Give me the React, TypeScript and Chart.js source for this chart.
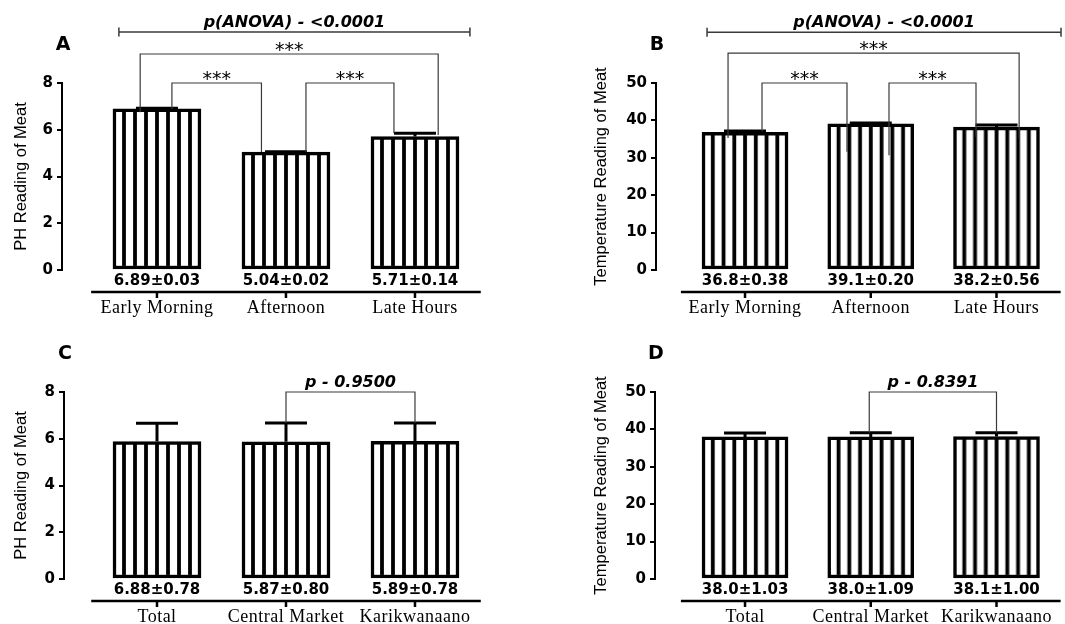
import React, { useEffect, useRef } from "react";
import { Chart, registerables } from "chart.js";

Chart.register(...registerables);

// ---------------- data ----------------
const TIME_CATEGORIES = ["Early Morning", "Afternoon", "Late Hours"];
const MARKET_CATEGORIES = ["Total", "Central Market", "Karikwanaano"];

const PH_TICKS = [0, 2, 4, 6, 8];
const TEMP_TICKS = [0, 10, 20, 30, 40, 50];

const PH_TIME_MEAN = [6.89, 5.04, 5.71];
const PH_TIME_SD = [0.03, 0.02, 0.14];
const PH_TIME_TEXT = ["6.89±0.03", "5.04±0.02", "5.71±0.14"];

const TEMP_TIME_MEAN = [36.8, 39.1, 38.2];
const TEMP_TIME_SD = [0.38, 0.2, 0.56];
const TEMP_TIME_TEXT = ["36.8±0.38", "39.1±0.20", "38.2±0.56"];

const PH_MARKET_MEAN = [5.88, 5.87, 5.89];
const PH_MARKET_SD = [0.78, 0.8, 0.78];
const PH_MARKET_TEXT = ["6.88±0.78", "5.87±0.80", "5.89±0.78"];

const TEMP_MARKET_MEAN = [38.0, 38.0, 38.1];
const TEMP_MARKET_SD = [1.03, 1.09, 1.0];
const TEMP_MARKET_TEXT = ["38.0±1.03", "38.0±1.09", "38.1±1.00"];

// comparison annotations (x in category units, y in axis values)
const PH_TIME_HEADER = { from: -0.295, to: 2.426, at: 10.18, text: "p(ANOVA) - <0.0001" };
const PH_TIME_BRACKETS = [
  { from: -0.13, to: 2.18, top: 9.24, fromEnd: 6.75, toEnd: 5.78, text: "***", stars: true },
  { from: 0.116, to: 0.81, top: 8, fromEnd: 6.89, toEnd: 5.05, text: "***", stars: true },
  { from: 1.155, to: 1.837, top: 8, fromEnd: 5.05, toEnd: 5.86, text: "***", stars: true },
];

const TEMP_TIME_HEADER = { from: -0.302, to: 2.513, at: 63.6, text: "p(ANOVA) - <0.0001" };
const TEMP_TIME_BRACKETS = [
  { from: -0.135, to: 2.18, top: 58.0, fromEnd: 35.3, toEnd: 35.3, text: "***", stars: true },
  { from: 0.135, to: 0.811, top: 50, fromEnd: 37.0, toEnd: 31.6, text: "***", stars: true },
  { from: 1.145, to: 1.837, top: 50, fromEnd: 30.7, toEnd: 35.6, text: "***", stars: true },
];

const PH_MARKET_BRACKETS = [
  { from: 1.0, to: 2.0, top: 8, fromEnd: 6.67, toEnd: 6.67, text: "p - 0.9500", stars: false },
];
const TEMP_MARKET_BRACKETS = [
  { from: 0.988, to: 2.0, top: 50, fromEnd: 39.1, toEnd: 39.1, text: "p - 0.8391", stars: false },
];

// ---------------- styling ----------------
const SANS = "'Liberation Sans', Arial, sans-serif";
const DEJAVU = "'DejaVu Sans', sans-serif";
const SERIF = "'Liberation Serif', 'Times New Roman', serif";
const STRIPE = 3.8;
const CAP = 21;

type Bracket = { from: number; to: number; top: number; fromEnd: number; toEnd: number; text: string; stars: boolean };
type Header = { from: number; to: number; at: number; text: string };

interface PanelSpec {
  letter: string;
  left: number;
  top: number;
  width: number;
  height: number;
  yWidth: number;
  padTop: number;
  padRight: number;
  xHeight: number;
  xMin: number;
  xMax: number;
  barThickness: number;
  categories: string[];
  means: number[];
  sd: number[];
  texts: string[];
  yMax: number;
  yTicks: number[];
  yTitle: string;
  header: Header | null;
  brackets: Bracket[];
}

const PANELS: PanelSpec[] = [
  {
    letter: "A", left: 0, top: 0, width: 530, height: 320, yWidth: 62, padTop: 83, padRight: 50, xHeight: 50,
    xMin: -0.736, xMax: 2.504, barThickness: 88, categories: TIME_CATEGORIES,
    means: PH_TIME_MEAN, sd: PH_TIME_SD, texts: PH_TIME_TEXT, yMax: 8, yTicks: PH_TICKS,
    yTitle: "PH Reading of Meat", header: PH_TIME_HEADER, brackets: PH_TIME_BRACKETS,
  },
  {
    letter: "B", left: 580, top: 0, width: 485, height: 320, yWidth: 76, padTop: 83, padRight: 5, xHeight: 50,
    xMin: -0.708, xMax: 2.505, barThickness: 86, categories: TIME_CATEGORIES,
    means: TEMP_TIME_MEAN, sd: TEMP_TIME_SD, texts: TEMP_TIME_TEXT, yMax: 50, yTicks: TEMP_TICKS,
    yTitle: "Temperature Reading of Meat", header: TEMP_TIME_HEADER, brackets: TEMP_TIME_BRACKETS,
  },
  {
    letter: "C", left: 0, top: 320, width: 530, height: 304, yWidth: 64, padTop: 72, padRight: 50, xHeight: 45,
    xMin: -0.721, xMax: 2.504, barThickness: 88, categories: MARKET_CATEGORIES,
    means: PH_MARKET_MEAN, sd: PH_MARKET_SD, texts: PH_MARKET_TEXT, yMax: 8, yTicks: PH_TICKS,
    yTitle: "PH Reading of Meat", header: null, brackets: PH_MARKET_BRACKETS,
  },
  {
    letter: "D", left: 580, top: 320, width: 485, height: 304, yWidth: 75, padTop: 72, padRight: 5, xHeight: 45,
    xMin: -0.716, xMax: 2.505, barThickness: 86, categories: MARKET_CATEGORIES,
    means: TEMP_MARKET_MEAN, sd: TEMP_MARKET_SD, texts: TEMP_MARKET_TEXT, yMax: 50, yTicks: TEMP_TICKS,
    yTitle: "Temperature Reading of Meat", header: null, brackets: TEMP_MARKET_BRACKETS,
  },
];

function stripeFill(context: any, thickness: number): any {
  if (context.type !== "data") return "#ffffff";
  const chart = context.chart;
  const xs = chart.scales && chart.scales.x;
  if (!xs) return "#ffffff";
  const center = xs.getPixelForValue(context.dataIndex);
  if (!isFinite(center)) return "#ffffff";
  const left = center - thickness / 2;
  const tile = document.createElement("canvas");
  tile.width = Math.ceil(thickness);
  tile.height = 4;
  const t = tile.getContext("2d")!;
  t.fillStyle = "#ffffff";
  t.fillRect(0, 0, tile.width, tile.height);
  t.fillStyle = "#000000";
  const period = thickness / 8;
  for (let k = 1; k < 8; k++) t.fillRect(k * period - STRIPE / 2, 0, STRIPE, tile.height);
  const pattern = chart.ctx.createPattern(tile, "repeat");
  if (!pattern) return "#ffffff";
  pattern.setTransform(new DOMMatrix().translate(left, 0));
  return pattern;
}

function drawText(ctx: CanvasRenderingContext2D, s: string, x: number, y: number, font: string, baseline: CanvasTextBaseline) {
  ctx.save();
  ctx.font = font;
  ctx.fillStyle = "#000";
  ctx.textAlign = "center";
  ctx.textBaseline = baseline;
  ctx.fillText(s, x, y);
  ctx.restore();
}

function decor(spec: PanelSpec) {
  return {
    id: "decor" + spec.letter,
    afterDatasetsDraw(chart: any) {
      const ctx: CanvasRenderingContext2D = chart.ctx;
      const xs = chart.scales.x;
      const ys = chart.scales.y;
      ctx.save();
      ctx.strokeStyle = "#000";
      ctx.lineWidth = 3;
      spec.means.forEach((m, i) => {
        const x = xs.getPixelForValue(i);
        const yb = ys.getPixelForValue(m);
        const yt = ys.getPixelForValue(m + spec.sd[i]);
        ctx.beginPath();
        ctx.moveTo(x, yb);
        ctx.lineTo(x, yt);
        ctx.moveTo(x - CAP, yt);
        ctx.lineTo(x + CAP, yt);
        ctx.stroke();
      });
      ctx.restore();
      (ctx as any).letterSpacing = "0.5px";
    },
    afterDraw(chart: any) {
      const ctx: CanvasRenderingContext2D = chart.ctx;
      (ctx as any).letterSpacing = "0px";
      const xs = chart.scales.x;
      const ys = chart.scales.y;
      const area = chart.chartArea;

      // offset category axis line
      const axisY = Math.round(area.bottom) + 22;
      ctx.save();
      ctx.strokeStyle = "#000";
      ctx.lineWidth = 2.5;
      ctx.beginPath();
      ctx.moveTo(xs.getPixelForValue(-0.51), axisY);
      ctx.lineTo(xs.getPixelForValue(2.51), axisY);
      spec.categories.forEach((_c, i) => {
        const x = xs.getPixelForValue(i);
        ctx.moveTo(x, axisY);
        ctx.lineTo(x, axisY + 6);
      });
      ctx.stroke();
      ctx.restore();

      // mean ± sd text under bars
      spec.texts.forEach((s, i) => {
        drawText(ctx, s, xs.getPixelForValue(i), area.bottom + 11, `bold 15px ${DEJAVU}`, "middle");
      });

      // brackets
      ctx.save();
      ctx.strokeStyle = "#3a3a3a";
      ctx.lineWidth = 1.2;
      spec.brackets.forEach((b) => {
        const xl = xs.getPixelForValue(b.from);
        const xr = xs.getPixelForValue(b.to);
        const yt = ys.getPixelForValue(b.top);
        ctx.beginPath();
        ctx.moveTo(xl, ys.getPixelForValue(b.fromEnd));
        ctx.lineTo(xl, yt);
        ctx.lineTo(xr, yt);
        ctx.lineTo(xr, ys.getPixelForValue(b.toEnd));
        ctx.stroke();
        if (b.stars) drawText(ctx, b.text, (xl + xr) / 2, yt + 2, `19px ${DEJAVU}`, "alphabetic");
        else drawText(ctx, b.text, (xl + xr) / 2, yt - 5, `italic bold 16px ${DEJAVU}`, "alphabetic");
      });

      // ANOVA header
      if (spec.header) {
        const h = spec.header;
        const xl = xs.getPixelForValue(h.from);
        const xr = xs.getPixelForValue(h.to);
        const y = ys.getPixelForValue(h.at);
        ctx.lineWidth = 1.5;
        ctx.beginPath();
        ctx.moveTo(xl, y);
        ctx.lineTo(xr, y);
        ctx.moveTo(xl, y - 4.5);
        ctx.lineTo(xl, y + 4.5);
        ctx.moveTo(xr, y - 4.5);
        ctx.lineTo(xr, y + 4.5);
        ctx.stroke();
        drawText(ctx, h.text, (xl + xr) / 2, y - 5, `italic bold 16px ${DEJAVU}`, "alphabetic");
      }
      ctx.restore();

      // panel letter
      drawText(ctx, spec.letter, area.left + 1, area.top - 38, `bold 19px ${DEJAVU}`, "middle");
    },
  };
}

function buildConfig(spec: PanelSpec): any {
  return {
    type: "bar",
    data: {
      datasets: [
        {
          data: spec.means.map((v, i) => ({ x: i, y: v })),
          backgroundColor: (c: any) => stripeFill(c, spec.barThickness),
          borderColor: "#000",
          borderWidth: 3.5,
          borderSkipped: false,
          barThickness: spec.barThickness,
        },
      ],
    },
    options: {
      responsive: false,
      animation: false,
      devicePixelRatio: 1,
      events: [],
      layout: { padding: { top: spec.padTop, right: spec.padRight, left: 0, bottom: 0 } },
      plugins: { legend: { display: false }, tooltip: { enabled: false } },
      scales: {
        x: {
          type: "linear",
          min: spec.xMin,
          max: spec.xMax,
          offset: false,
          grid: { display: false, drawTicks: false },
          border: { display: false },
          afterBuildTicks: (s: any) => {
            s.ticks = spec.categories.map((_c, i) => ({ value: i }));
          },
          afterFit: (s: any) => {
            s.height = spec.xHeight;
            s.paddingLeft = 0;
            s.paddingRight = 0;
          },
          ticks: {
            z: 1,
            padding: 27,
            autoSkip: false,
            maxRotation: 0,
            minRotation: 0,
            color: "#000",
            font: { family: SERIF, size: 18, weight: "normal" },
            callback: (_v: any, i: number) => spec.categories[i],
          },
        },
        y: {
          type: "linear",
          min: 0,
          max: spec.yMax,
          afterBuildTicks: (s: any) => {
            s.ticks = spec.yTicks.map((v) => ({ value: v }));
          },
          afterFit: (s: any) => {
            s.width = spec.yWidth;
            s.paddingTop = 0;
            s.paddingBottom = 0;
          },
          grid: { display: true, drawOnChartArea: false, drawTicks: true, tickLength: 5, color: "#000", lineWidth: 2 },
          border: { display: true, color: "#000", width: 2 },
          ticks: {
            padding: 4,
            color: "#000",
            font: { family: DEJAVU, size: 15, weight: "bold" },
            callback: (v: any) => String(v),
          },
          title: {
            display: true,
            text: spec.yTitle,
            color: "#000",
            font: { family: SANS, size: 16.5, weight: "normal" },
            padding: { top: 12, bottom: 0 },
          },
        },
      },
    },
    plugins: [decor(spec)],
  };
}

function Panel({ spec }: { spec: PanelSpec }) {
  const ref = useRef<HTMLCanvasElement>(null);
  useEffect(() => {
    const canvas = ref.current;
    if (!canvas) return;
    const chart = new Chart(canvas, buildConfig(spec));
    return () => chart.destroy();
  }, [spec]);
  return (
    <canvas
      ref={ref}
      width={spec.width}
      height={spec.height}
      style={{ position: "absolute", left: spec.left, top: spec.top, width: spec.width, height: spec.height }}
    />
  );
}

export default function App() {
  return (
    <div
      style={{
        position: "fixed",
        left: 0,
        top: 0,
        width: 1065,
        height: 624,
        background: "#ffffff",
        overflow: "hidden",
      }}
    >
      {PANELS.map((p) => (
        <Panel key={p.letter} spec={p} />
      ))}
    </div>
  );
}
